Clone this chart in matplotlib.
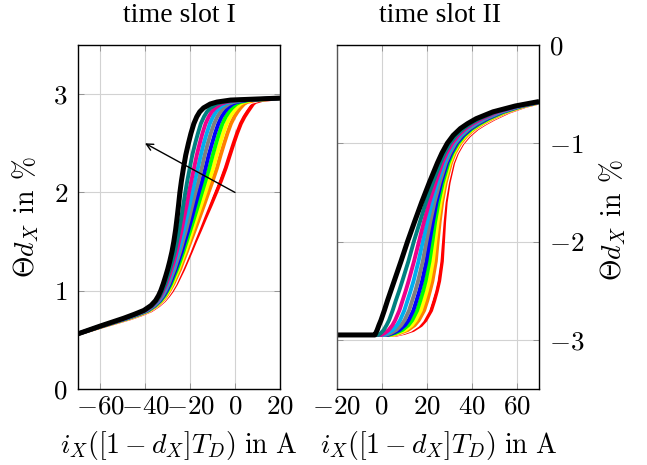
import matplotlib
matplotlib.use("Agg")
import matplotlib.pyplot as plt

plt.rcParams.update({
    "mathtext.fontset": "cm",
    "font.family": "Liberation Serif",
    "axes.linewidth": 1.0,
})

# drawing order: first entry is at the bottom, black sits on top
CURVE_COLORS = ["#ff0000", "#ffffff", "#ff8000", "#ffff00", "#00ff00",
                "#0000ff", "#808080", "#00aeef", "#ec008c", "#008080", "#000000"]
CURVE_WIDTHS = [2.8] * 10 + [3.6]

# time slot I: x position of each curve at these y levels
LEFT_LEVELS = [0.56, 0.64, 0.72, 0.76, 0.80, 0.85, 0.90, 0.95, 1.00, 1.07,
               1.15, 1.22, 1.30, 1.40, 1.50, 1.62, 1.75, 1.87, 2.00, 2.12,
               2.25, 2.38, 2.50, 2.60, 2.70, 2.77, 2.82, 2.86, 2.90, 2.92,
               2.94, 2.96]
LEFT_X = [
    # red
    [-70, -58.5, -46.5, -41.5, -37.3, -34.0, -31.5, -29.6, -28.0, -26.2, -24.5, -23.0, -21.5, -19.6, -17.8, -15.5,
     -13.1, -10.8, -8.4, -6.2, -4.1, -2.3, -0.6, 0.9, 2.6, 4.2, 5.6, 6.8, 8.0, 9.0, 12.0, 20],
    # white
    [-70, -58.7, -46.8, -41.9, -37.7, -34.4, -31.9, -30.1, -28.6, -26.8, -25.2, -23.8, -22.3, -20.5, -18.8, -16.7,
     -14.5, -12.4, -10.2, -8.1, -6.2, -4.5, -2.8, -1.4, 0.3, 1.9, 3.3, 4.5, 5.9, 7.1, 10.5, 20],
    # orange
    [-70, -58.8, -47.1, -42.2, -38.0, -34.7, -32.3, -30.5, -29.1, -27.4, -25.8, -24.4, -23.1, -21.4, -19.8, -17.8,
     -15.7, -13.8, -11.8, -9.9, -8.0, -6.4, -4.8, -3.4, -1.8, -0.3, 1.1, 2.4, 4.0, 5.4, 9.1, 20],
    # yellow
    [-70, -59.0, -47.4, -42.5, -38.3, -35.0, -32.6, -30.9, -29.5, -27.9, -26.4, -25.1, -23.8, -22.1, -20.6, -18.8,
     -16.9, -15.1, -13.2, -11.5, -9.7, -8.2, -6.6, -5.3, -3.7, -2.2, -0.8, 0.6, 2.3, 3.9, 7.8, 20],
    # green
    [-70, -59.1, -47.7, -42.8, -38.5, -35.3, -33.0, -31.3, -30.0, -28.4, -27.0, -25.7, -24.4, -22.9, -21.5, -19.8,
     -18.0, -16.4, -14.7, -13.1, -11.4, -9.9, -8.4, -7.1, -5.6, -4.1, -2.7, -1.3, 0.6, 2.4, 6.5, 20],
    # blue
    [-70, -59.2, -47.9, -43.1, -38.8, -35.6, -33.3, -31.7, -30.4, -28.9, -27.5, -26.3, -25.1, -23.6, -22.3, -20.7,
     -19.1, -17.7, -16.1, -14.6, -13.1, -11.7, -10.2, -8.9, -7.4, -6.0, -4.6, -3.2, -1.1, 0.8, 5.3, 20],
    # gray
    [-70, -59.4, -48.2, -43.4, -39.1, -35.9, -33.7, -32.1, -30.9, -29.4, -28.1, -26.9, -25.8, -24.4, -23.2, -21.7,
     -20.3, -19.0, -17.6, -16.2, -14.8, -13.5, -12.1, -10.8, -9.3, -7.9, -6.5, -5.1, -2.8, -0.7, 4.0, 20],
    # cyan
    [-70, -59.5, -48.5, -43.7, -39.4, -36.2, -34.0, -32.5, -31.3, -30.0, -28.7, -27.6, -26.5, -25.1, -24.0, -22.7,
     -21.4, -20.2, -19.0, -17.8, -16.5, -15.2, -13.9, -12.6, -11.2, -9.8, -8.5, -6.9, -4.5, -2.2, 2.8, 20],
    # magenta
    [-70, -59.6, -48.8, -44.0, -39.7, -36.5, -34.4, -32.9, -31.8, -30.5, -29.2, -28.2, -27.1, -25.9, -24.9, -23.7,
     -22.6, -21.5, -20.5, -19.4, -18.2, -17.0, -15.7, -14.5, -13.1, -11.7, -10.4, -8.8, -6.3, -3.8, 1.5, 20],
    # teal
    [-70, -59.8, -49.1, -44.3, -40.0, -36.8, -34.7, -33.3, -32.3, -31.0, -29.9, -28.9, -27.9, -26.7, -25.8, -24.8,
     -23.8, -23.0, -22.1, -21.2, -20.1, -19.0, -17.7, -16.5, -15.2, -13.8, -12.5, -10.9, -8.2, -5.5, 0.1, 20],
    # black
    [-70, -60.0, -49.5, -44.8, -40.5, -37.3, -35.3, -34.0, -33.0, -31.9, -30.8, -29.9, -29.0, -28.0, -27.2, -26.4,
     -25.7, -25.1, -24.5, -23.8, -22.9, -21.9, -20.7, -19.6, -18.3, -17.0, -15.7, -14.0, -11.0, -8.0, -2.0, 20],
]

# time slot II: x position of each curve at these y levels
RIGHT_LEVELS = [-2.95, -2.95, -2.93, -2.90, -2.85, -2.80, -2.70, -2.60, -2.50,
                -2.40, -2.20, -2.00, -1.80, -1.60, -1.40, -1.20, -1.10, -1.00,
                -0.92, -0.85, -0.80, -0.75, -0.68, -0.62, -0.575]
RIGHT_X = [
    # red
    [-20, 6.0, 10.0, 14.0, 17.5, 19.5, 22.0, 23.4, 24.6, 25.6, 26.8, 27.3, 27.8, 28.5, 29.8, 31.8, 33.5,
     36.0, 39.0, 42.5, 46.0, 50.0, 56.5, 64.0, 72.0],
    # white
    [-20, 5.3, 9.0, 12.7, 16.0, 17.9, 20.3, 21.7, 23.0, 24.0, 25.3, 26.0, 26.7, 27.6, 29.1, 31.2, 33.0,
     35.5, 38.4, 41.9, 45.4, 49.4, 55.9, 63.6, 71.8],
    # orange
    [-20, 4.7, 8.1, 11.6, 14.7, 16.5, 18.9, 20.3, 21.5, 22.6, 24.1, 24.9, 25.8, 26.9, 28.5, 30.8, 32.5,
     35.0, 37.9, 41.4, 44.8, 48.8, 55.5, 63.3, 71.7],
    # yellow
    [-20, 4.0, 7.2, 10.5, 13.4, 15.1, 17.4, 18.8, 20.1, 21.2, 22.8, 23.8, 24.9, 26.2, 27.9, 30.3, 32.0,
     34.5, 37.4, 40.9, 44.3, 48.2, 55.0, 63.0, 71.6],
    # green
    [-20, 3.3, 6.2, 9.2, 11.9, 13.6, 15.8, 17.2, 18.5, 19.6, 21.3, 22.6, 23.8, 25.3, 27.2, 29.7, 31.5,
     34.0, 36.8, 40.3, 43.7, 47.6, 54.4, 62.7, 71.4],
    # blue
    [-20, 2.6, 5.2, 7.9, 10.4, 12.0, 14.1, 15.5, 16.8, 18.0, 19.9, 21.3, 22.8, 24.4, 26.5, 29.1, 31.0,
     33.4, 36.3, 39.7, 43.0, 47.0, 53.8, 62.3, 71.2],
    # gray
    [-20, 1.8, 4.1, 6.5, 8.7, 10.2, 12.2, 13.6, 15.0, 16.2, 18.3, 19.9, 21.6, 23.5, 25.8, 28.5, 30.4,
     32.8, 35.6, 39.0, 42.3, 46.2, 53.2, 61.9, 71.1],
    # cyan
    [-20, 0.9, 2.8, 4.9, 6.8, 8.2, 10.1, 11.5, 12.9, 14.2, 16.4, 18.3, 20.3, 22.4, 24.9, 27.8, 29.7,
     32.1, 34.9, 38.2, 41.6, 45.4, 52.5, 61.4, 70.9],
    # magenta
    [-20, -0.1, 1.4, 3.1, 4.8, 6.0, 7.9, 9.3, 10.7, 12.0, 14.4, 16.6, 18.8, 21.2, 24.0, 27.0, 28.9,
     31.4, 34.1, 37.4, 40.7, 44.6, 51.7, 60.9, 70.6],
    # teal
    [-20, -1.4, -0.3, 0.9, 2.2, 3.3, 4.9, 6.3, 7.8, 9.2, 11.9, 14.3, 17.0, 19.7, 22.8, 26.1, 28.0,
     30.4, 33.1, 36.4, 39.6, 43.4, 50.8, 60.3, 70.4],
    # black
    [-20, -3.0, -2.6, -2.0, -1.2, -0.3, 1.2, 2.6, 4.1, 5.6, 8.6, 11.5, 14.6, 17.8, 21.2, 24.8, 26.8,
     29.2, 31.8, 35.0, 38.2, 42.0, 49.5, 59.5, 70.0],
]

LEFT_XTICKS = [-60, -40, -20, 0, 20]
LEFT_YTICKS = [0, 1, 2, 3]
RIGHT_XTICKS = [-20, 0, 20, 40, 60]
RIGHT_YTICKS = [0, -1, -2, -3]

ARROW_TAIL = (0.0, 2.0)
ARROW_HEAD = (-40.0, 2.5)

TICK_SIZE = 19.5
LABEL_SIZE = 20
TITLE_SIZE = 20
Y_LABEL = r"$\Theta d_X\;\,\mathrm{in}\;\,\%$"
X_LABEL = r"$i_X([1-d_X]T_D)\ \mathrm{in\ A}$"


def style_axes(ax, xticks, yticks):
    ax.set_xticks(xticks)
    ax.set_xticklabels([f"${v}$" for v in xticks], fontsize=TICK_SIZE)
    ax.set_yticks(yticks)
    ax.set_yticklabels([f"${v}$" for v in yticks], fontsize=TICK_SIZE)
    ax.grid(True, color="#d2d2d2", linewidth=0.8)
    ax.set_axisbelow(True)
    ax.tick_params(direction="in", length=4, width=0.6, color="#8a8a8a",
                   top=True, right=True)
    ax.tick_params(axis="x", pad=4)


fig = plt.figure(figsize=(6.47, 4.65), dpi=100)

ax1 = fig.add_axes([0.1198, 0.1634, 0.3130, 0.7398])
for xs, color, lw in zip(LEFT_X, CURVE_COLORS, CURVE_WIDTHS):
    ax1.plot(xs, LEFT_LEVELS, color=color, linewidth=lw,
             solid_joinstyle="round", solid_capstyle="butt")
ax1.annotate("", xy=ARROW_HEAD, xytext=ARROW_TAIL,
             arrowprops=dict(arrowstyle="->", color="black", lw=1.0,
                             shrinkA=0, shrinkB=0, mutation_scale=12),
             zorder=10)
ax1.set_xlim(-70, 20)
ax1.set_ylim(0, 3.5)
style_axes(ax1, LEFT_XTICKS, LEFT_YTICKS)
ax1.tick_params(axis="y", pad=7)

ax2 = fig.add_axes([0.5204, 0.1634, 0.3127, 0.7398])
for xs, color, lw in zip(RIGHT_X, CURVE_COLORS, CURVE_WIDTHS):
    ax2.plot(xs, RIGHT_LEVELS, color=color, linewidth=lw,
             solid_joinstyle="round", solid_capstyle="butt")
ax2.set_xlim(-20, 70)
ax2.set_ylim(-3.5, 0)
style_axes(ax2, RIGHT_XTICKS, RIGHT_YTICKS)
ax2.yaxis.tick_right()
ax2.tick_params(axis="y", left=True, right=True, labelleft=False,
                labelright=True, pad=7)
ax2.spines["left"].set_color("#555555")

fig.text(0.278, 0.967, "time slot I", ha="center", va="center", fontsize=TITLE_SIZE)
fig.text(0.680, 0.967, "time slot II", ha="center", va="center", fontsize=TITLE_SIZE)
fig.text(0.276, 0.043, X_LABEL, ha="center", va="center", fontsize=LABEL_SIZE)
fig.text(0.678, 0.043, X_LABEL, ha="center", va="center", fontsize=LABEL_SIZE)
fig.text(0.040, 0.533, Y_LABEL, ha="center", va="center", rotation=90,
         fontsize=LABEL_SIZE)
fig.text(0.947, 0.527, Y_LABEL, ha="center", va="center", rotation=90,
         fontsize=LABEL_SIZE)

fig.savefig("out.png", dpi=100, facecolor="white")
